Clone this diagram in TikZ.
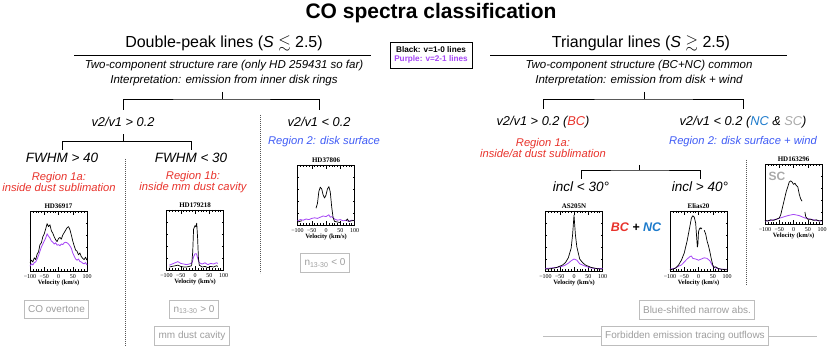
\documentclass[tikz,border=0pt]{standalone}
\usepackage{fontspec}
\usepackage{amssymb}
\setmainfont{Liberation Sans}
\newfontfamily\idlfont{Liberation Serif}
\usetikzlibrary{positioning, calc}
\definecolor{cred}{HTML}{E8322B}
\definecolor{cblue}{HTML}{3F5BF5}
\definecolor{cnc}{HTML}{1C7ACB}
\definecolor{csc}{HTML}{A9A9A9}
\definecolor{cpurple}{HTML}{A545F5}
\definecolor{ctag}{HTML}{9E9E9E}
\definecolor{ctagline}{HTML}{BDBDBD}
\definecolor{cdots}{HTML}{555555}
\tikzset{
  heading/.style={font=\fontsize{16}{18}\selectfont},
  sub/.style={font=\fontsize{11.5}{14.5}\selectfont\itshape, align=center},
  branch/.style={font=\fontsize{12.8}{15}\selectfont\itshape, outer ysep=4pt},
  cut/.style={font=\fontsize{13.5}{15}\selectfont\itshape},
  region/.style={font=\fontsize{11.2}{11.5}\selectfont\itshape, text=#1, align=center},
  region/.default=cred,
  rule/.style={draw=black, line width=0.9pt},
  bracket/.style={draw=black, line width=0.9pt},
  divider/.style={draw=cdots, line width=0.8pt, dash pattern=on 0.8pt off 1.2pt},
  tag/.style={draw=ctagline, fill=white, text=ctag, line width=0.9pt, font=\fontsize{10}{12}\selectfont, inner xsep=4pt, minimum height=18.5pt},
  specdata/.style 2 args={shift={(#1,#2+60)}, x=0.285pt, y=60pt},
  frame/.style={draw=black, line width=0.5pt},
  tick/.style={draw=black, line width=0.35pt},
  spectitle/.style={font=\idlfont\bfseries\fontsize{7}{8}\selectfont, inner sep=1pt},
  ticklabel/.style={font=\idlfont\fontsize{6}{7}\selectfont, inner sep=0.5pt},
  velolabel/.style={font=\idlfont\bfseries\fontsize{6.5}{7}\selectfont, inner sep=0.5pt},
  co10/.style={draw=black, line width=0.7pt, line join=round},
  co21/.style={draw=cpurple, line width=0.8pt, line join=round},
}
% frame, ticks and labels of one spectrum: name, centre x, top y, title
\newcommand{\specframe}[4]{%
  \begin{scope}[specdata={#2}{#3}]
    \draw[frame] (-100,0) rectangle (100,1);
    \foreach \v in {-90,-80,...,90} {
      \draw[tick] (\v,0) -- ++(0,0.03);
      \draw[tick] (\v,1) -- ++(0,-0.03);
    }
    \foreach \v in {-50,0,50} {
      \draw[tick] (\v,0) -- ++(0,0.06);
      \draw[tick] (\v,1) -- ++(0,-0.06);
    }
    \foreach \f in {0.2,0.4,0.6,0.8} {
      \draw[tick] (-100,\f) -- ++(5,0);
      \draw[tick] (100,\f) -- ++(-5,0);
    }
    \node[spectitle, anchor=south] (#1) at (0,1.02) {#4};
    \foreach \v/\t in {-100/−100,-50/−50,0/0,50/50,100/100}
      \node[ticklabel, anchor=north] (#1x\v) at (\v,-0.04) {\t};
    \node[velolabel, anchor=north] (#1vel) at (0,-0.14) {Velocity (km/s)};
  \end{scope}}

\begin{document}
\begin{tikzpicture}[x=1pt, y=-1pt]
  \useasboundingbox (0,0) rectangle (831,350);
  \node[font=\fontsize{21}{24}\selectfont\bfseries] (title) at (431,13) {CO spectra classification};
  \node[draw, line width=0.8pt, minimum width=82pt, minimum height=26pt, align=center,
        font=\fontsize{8.2}{9.5}\selectfont\bfseries] (legend) at (431,55)
        {Black: v=1-0 lines\\\textcolor{cpurple}{Purple: v=2-1 lines}};

  % double-peak lines
  \node[heading] (dp) at (224,44) {Double-peak lines (\textit{S} $\lesssim$ 2.5)};
  \draw[rule] (74,55) -- (371,55);
  \node[sub] (dpsub) at (224,73) {Two-component structure rare (only HD 259431 so far)\\Interpretation: emission from inner disk rings};
  \coordinate (dpfork) at (222,92);
  \draw[bracket] (dpfork) -- ++(0,7) coordinate (dpbar);
  \node[branch] (hiL) at (123,122) {v2/v1 > 0.2};
  \node[branch] (loL) at (319,122) {v2/v1 < 0.2};
  \draw[bracket] (hiL) |- (dpbar) -| (loL);
  \draw[bracket] (hiL.south) -- ++(0,7) coordinate (hiLbar);
  \node[cut] (fwA) at (62,158) {FWHM > 40};
  \node[cut] (fwB) at (191,158) {FWHM < 30};
  \draw[bracket] (fwA) |- (hiLbar) -| (fwB);
  \node[region] (regA) at (59,182) {Region 1a:\\inside dust sublimation};
  \node[region] (regB) at (193,182) {Region 1b:\\inside mm dust cavity};
  \node[region=cblue] (regC) at (324,142) {Region 2: disk surface};
  \draw[divider] (260,115) -- (260,273);
  \draw[divider] (125,159) -- (125,346);

  \specframe{hd36917}{58.5}{211}{HD36917}
  \begin{scope}[specdata={58.5}{211}]
    \draw[co21] plot coordinates {(-100,0.08) (-95,0.12) (-90,0.1) (-85,0.14) (-80,0.15) (-75,0.2) (-70,0.26) (-65,0.33) (-60,0.4) (-55,0.45) (-50,0.5) (-45,0.55) (-40,0.62) (-35,0.58) (-30,0.55) (-25,0.5) (-20,0.48) (-15,0.45) (-10,0.47) (-5,0.43) (0,0.44) (5,0.42) (10,0.45) (15,0.44) (20,0.47) (25,0.48) (30,0.47) (35,0.45) (40,0.42) (45,0.38) (50,0.3) (55,0.25) (60,0.2) (65,0.18) (70,0.2) (75,0.16) (80,0.15) (85,0.13) (90,0.12) (95,0.14) (100,0.1)};
    \draw[co10] plot coordinates {(-100,0.14) (-95,0.18) (-90,0.15) (-85,0.22) (-80,0.19) (-75,0.28) (-70,0.32) (-65,0.44) (-60,0.47) (-55,0.57) (-50,0.62) (-45,0.7) (-40,0.79) (-35,0.74) (-30,0.77) (-25,0.67) (-20,0.63) (-15,0.57) (-10,0.52) (-5,0.49) (0,0.54) (5,0.56) (10,0.53) (15,0.6) (20,0.64) (25,0.68) (30,0.72) (35,0.74) (40,0.69) (45,0.6) (50,0.5) (55,0.42) (60,0.35) (65,0.33) (70,0.27) (75,0.3) (80,0.24) (85,0.21) (90,0.19) (95,0.23) (100,0.18)};
  \end{scope}
  \specframe{hd179218}{195}{210}{HD179218}
  \begin{scope}[specdata={195}{210}]
    \draw[co21] plot coordinates {(-90,0.08) (-80,0.1) (-70,0.12) (-60,0.14) (-50,0.11) (-40,0.1) (-30,0.09) (-20,0.1) (-10,0.12) (-5,0.22) (0,0.27) (5,0.27) (10,0.19) (15,0.12) (25,0.1) (35,0.12) (45,0.09) (55,0.11) (65,0.1) (75,0.12) (80,0.11)};
    \draw[co10] plot coordinates {(-90,0.05) (-80,0.06) (-70,0.07) (-60,0.08) (-50,0.06) (-40,0.05) (-30,0.05) (-20,0.06) (-12,0.07) (-8,0.3) (-5,0.68) (0,0.74) (3,0.72) (6,0.78) (9,0.55) (12,0.2) (15,0.08) (25,0.05) (35,0.06) (45,0.04) (55,0.06) (65,0.05) (75,0.07) (80,0.06)};
  \end{scope}
  \specframe{hd37806}{326}{165}{HD37806}
  \begin{scope}[specdata={326}{165}]
    \draw[co21] plot coordinates {(-100,0.07) (-90,0.09) (-80,0.08) (-70,0.1) (-60,0.09) (-50,0.11) (-40,0.12) (-30,0.11) (-20,0.13) (-10,0.15) (0,0.14) (10,0.17) (15,0.13) (20,0.14) (30,0.1) (40,0.08) (50,0.09) (60,0.07) (70,0.08) (80,0.06) (90,0.08) (100,0.07)};
    \draw[co10] plot coordinates {(-100,0.05) (-92,0.06) (-85,0.07)};
    \draw[co10] plot coordinates {(-35,0.28) (-30,0.36) (-25,0.56) (-20,0.63) (-15,0.6) (-10,0.5) (-5,0.45) (0,0.5) (5,0.6) (10,0.64) (15,0.55) (20,0.3) (25,0.12) (30,0.06) (40,0.05) (50,0.04)};
    \draw[co10] plot coordinates {(70,0.07) (75,0.1) (80,0.06) (90,0.07) (100,0.08)};
  \end{scope}
  \node[tag] (coov) at (56.5,309.5) {CO overtone};
  \node[tag] (npos) at (194,309.5) {n\textsubscript{13-30} > 0};
  \node[tag] (mmcav) at (192,336) {mm dust cavity};
  \node[tag] (nneg) at (325,263) {n\textsubscript{13-30} < 0};

  % triangular lines
  \node[heading] (tri) at (641,44) {Triangular lines (\textit{S} $\gtrsim$ 2.5)};
  \draw[rule] (490,55) -- (787,55);
  \node[sub] (trisub) at (639,73) {Two-component structure (BC+NC) common\\Interpretation: emission from disk + wind};
  \coordinate (trifork) at (644,92);
  \draw[bracket] (trifork) -- ++(0,7) coordinate (tribar);
  \node[branch] (hiR) at (543,122) {v2/v1 > 0.2 (\textcolor{cred}{BC})};
  \node[branch] (loR) at (743,122) {v2/v1 < 0.2 (\textcolor{cnc}{NC} \& \textcolor{csc}{SC})};
  \draw[bracket] (hiR) |- (tribar) -| (loR);
  \node[region] (regD) at (543,148) {Region 1a:\\inside/at dust sublimation};
  \node[region=cblue] (regE) at (743,142) {Region 2: disk surface + wind};
  \coordinate (bcfork) at (639,165);
  \draw[bracket] (bcfork) -- ++(0,5) coordinate (bcbar);
  \node[cut] (inA) at (581,187) {incl < 30°};
  \node[cut] (inB) at (700,187) {incl > 40°};
  \draw[bracket] (inA) |- (bcbar) -| (inB);
  \node[font=\fontsize{12.5}{15}\selectfont\bfseries\itshape] (bcnc) at (636,227) {\textcolor{cred}{BC} + \textcolor{cnc}{NC}};
  \draw[divider] (746,160) -- (746,285);

  \specframe{as205n}{574}{211}{AS205N}
  \begin{scope}[specdata={574}{211}]
    \draw[co21] plot coordinates {(-100,0.04) (-80,0.05) (-60,0.06) (-40,0.08) (-30,0.1) (-20,0.13) (-10,0.17) (0,0.2) (10,0.18) (20,0.12) (30,0.1) (40,0.08) (60,0.05) (80,0.04) (100,0.04)};
    \draw[co10] plot coordinates {(-100,0.03) (-80,0.04) (-60,0.06) (-40,0.1) (-30,0.14) (-20,0.22) (-10,0.38) (-5,0.6) (0,0.93) (5,0.6) (10,0.4) (15,0.3) (20,0.2) (30,0.14) (40,0.1) (60,0.06) (80,0.04) (100,0.03)};
  \end{scope}
  \specframe{elias20}{698.5}{211}{Elias20}
  \begin{scope}[specdata={698.5}{211}]
    \draw[co21] plot coordinates {(-100,0.03) (-90,0.04) (-80,0.05) (-70,0.08) (-60,0.1) (-50,0.15) (-40,0.2) (-30,0.24) (-25,0.25) (-20,0.21) (-10,0.2) (0,0.18) (10,0.2) (20,0.22) (30,0.21) (40,0.17) (50,0.08) (60,0.05) (80,0.03) (100,0.03)};
    \draw[co10] plot coordinates {(-100,0.02) (-90,0.03) (-80,0.05) (-70,0.1) (-60,0.18) (-50,0.3) (-40,0.5) (-30,0.75) (-25,0.88) (-20,0.92) (-15,0.9) (-10,0.8) (-7,0.6) (-4,0.4) (-2,0.45) (0,0.65) (3,0.7) (6,0.72) (9,0.7) (12,0.72)};
    \draw[co10] plot coordinates {(20,0.68) (25,0.62) (30,0.5) (35,0.42) (40,0.32) (45,0.2) (50,0.1) (55,0.06) (60,0.07) (70,0.04) (80,0.03) (100,0.02)};
  \end{scope}
  \specframe{hd163296}{793.5}{164}{HD163296}
  \begin{scope}[specdata={793.5}{164}]
    \draw[co21] plot coordinates {(-100,0.05) (-80,0.06) (-60,0.08) (-40,0.11) (-20,0.14) (0,0.16) (10,0.15) (20,0.14) (40,0.1) (60,0.08) (80,0.06) (100,0.05)};
    \draw[co10] plot coordinates {(-100,0.06) (-90,0.05) (-80,0.07) (-70,0.06) (-60,0.08) (-50,0.1) (-45,0.15) (-40,0.25) (-35,0.35) (-30,0.45) (-25,0.55) (-20,0.62) (-15,0.7) (-10,0.72) (-5,0.7) (0,0.66) (5,0.68) (10,0.64) (15,0.62) (20,0.5) (25,0.42) (30,0.38)};
    \draw[co10] plot coordinates {(40,0.2) (43,0.12) (50,0.08) (60,0.08) (70,0.06) (80,0.07) (90,0.05) (100,0.06)};
  \end{scope}
  \node[font=\fontsize{12}{14}\selectfont\bfseries, text=csc] (sc) at (777,176) {SC};

  \node[tag] (blueabs) at (697,310) {Blue-shifted narrow abs.};
  \coordinate (outL) at (543,336);
  \coordinate (outR) at (817,336);
  \node[tag] (forb) at (685,336) {Forbidden emission tracing outflows};
  \draw[draw=ctagline, line width=0.9pt] (outL) -- (forb.west);
  \draw[draw=ctagline, line width=0.9pt] (forb.east) -- (outR);
\end{tikzpicture}
\end{document}
